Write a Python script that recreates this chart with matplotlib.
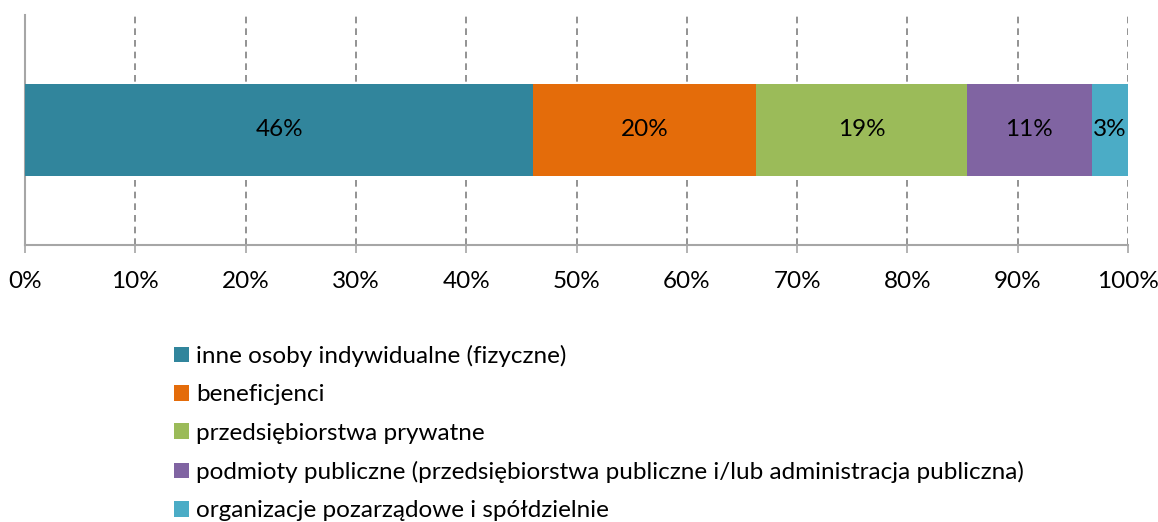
import matplotlib
matplotlib.use("Agg")
import matplotlib.pyplot as plt
from matplotlib.patches import Patch

plt.rcParams['font.family'] = ['Lato', 'DejaVu Sans']

categories = [
    "inne osoby indywidualne (fizyczne)",
    "beneficjenci",
    "przedsiębiorstwa prywatne",
    "podmioty publiczne (przedsiębiorstwa publiczne i/lub administracja publiczna)",
    "organizacje pozarządowe i spółdzielnie",
]
values = [46.1, 20.2, 19.1, 11.3, 3.3]
labels = ["46%", "20%", "19%", "11%", "3%"]
colors = ["#31859C", "#E46C0A", "#9BBB59", "#8064A2", "#4BACC6"]
xticks = list(range(0, 101, 10))
xtick_labels = [f"{t}%" for t in xticks]

W, H = 1158, 522
FS = 17.5
fig = plt.figure(figsize=(W / 100, H / 100), dpi=100)
ax = fig.add_axes([25 / W, 1 - 245 / H, (1128 - 25) / W, (245 - 15) / H])

left = 0
for v, lab, c in zip(values, labels, colors):
    ax.barh(0, v, left=left, height=0.4, color=c, zorder=3)
    ax.text(left + v / 2, 0, lab, ha='center', va='center', fontsize=FS, color='black', zorder=4)
    left += v

ax.set_xlim(0, 100)
ax.set_ylim(-0.5, 0.5)
ax.set_xticks(xticks)
ax.set_xticklabels(xtick_labels, fontsize=FS)
ax.set_yticks([])
ax.tick_params(axis='x', length=6, width=1.2, color='#A6A6A6', pad=13)
ax.xaxis.grid(True, linestyle=(0, (4, 3)), color='#808080', linewidth=1.2, zorder=0)
for s in ['top', 'right']:
    ax.spines[s].set_visible(False)
for s in ['left', 'bottom']:
    ax.spines[s].set_color('#A6A6A6')
    ax.spines[s].set_linewidth(1.5)

handles = [Patch(facecolor=c, edgecolor='none') for c in colors]
fig.legend(handles, categories, loc='upper left', bbox_to_anchor=(174 / W, 1 - 345 / H),
           frameon=False, fontsize=FS, handlelength=0.62, handleheight=0.62,
           handletextpad=0.3, labelspacing=0.71, borderpad=0, borderaxespad=0)

fig.savefig("out.png", dpi=100)
